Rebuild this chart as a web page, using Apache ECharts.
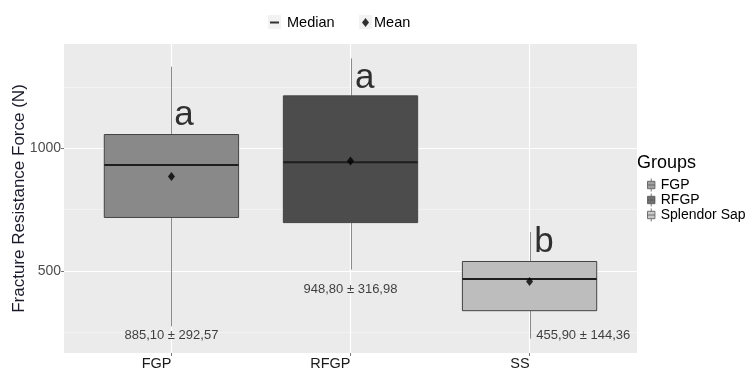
<!DOCTYPE html>
<html><head><meta charset="utf-8">
<script src="https://cdn.jsdelivr.net/npm/echarts@6/dist/echarts.min.js"></script>
<style>html,body{margin:0;padding:0;background:#fff}#c{width:748px;height:372px}</style>
</head><body><div id="c"></div>
<script>
// ---- data ----
const categories = ['FGP', 'RFGP', 'SS'];
const groups = ['FGP', 'RFGP', 'Splendor Sap'];
const whiskerMin = [273, 505, 223];
const q1 = [718, 697, 337];
const median = [932, 944, 466];
const q3 = [1057, 1215, 538];
const whiskerMax = [1334, 1368, 659];
const means = [885.10, 948.80, 455.90];
const sds = [292.57, 316.98, 144.36];
const letters = ['a', 'a', 'b'];
const letterX = [1.07, 2.08, 3.08];
const letterY = [1134, 1286, 615];
const statLabelX = [1, 2, 3.3];
const statLabelY = [236, 423, 236];
const yTicks = [500, 1000];
const yMinorGrid = [250, 750, 1250];

// ---- styles ----
const fills = ['#898989', '#4c4c4c', '#bdbdbd'];
const FONT = "'Liberation Sans', Arial, sans-serif";
const catPos = categories.map((c, i) => i + 1);
const fmt = v => v.toFixed(2).replace('.', ',');

const chart = echarts.init(document.getElementById('c'), null, {renderer: 'canvas'});

const boxPath = 'path://M4,0V3M0,3H8V11H0ZM4,11V14M0,7H8';

const gridLines = [
  ...yMinorGrid.map(v => ({yAxis: v, lineStyle: {color: '#f5f5f5', width: 0.8, type: 'solid'}})),
  ...yTicks.map(v => ({yAxis: v, lineStyle: {color: '#ffffff', width: 1.2, type: 'solid'}})),
  ...catPos.map(v => ({xAxis: v, lineStyle: {color: '#ffffff', width: 1.2, type: 'solid'}}))
];

const option = {
  animation: false,
  textStyle: {fontFamily: FONT},
  title: {text: 'Groups', left: 637, top: 154, padding: 0,
    textStyle: {fontSize: 18, fontWeight: 'normal', color: '#000', fontFamily: FONT}},
  graphic: [
    {type: 'rect', left: 268, top: 15, shape: {width: 13, height: 14}, style: {fill: '#f2f2f2'}, z: 0},
    {type: 'rect', left: 359, top: 15, shape: {width: 13, height: 14}, style: {fill: '#f2f2f2'}, z: 0}
  ],
  legend: [
    {data: ['Median'], left: 270, top: 15, padding: 0, icon: 'rect', itemWidth: 9, itemHeight: 2,
      textStyle: {fontSize: 14.5, color: '#000', padding: [0, 0, 0, 3]}, selectedMode: false},
    {data: ['Mean'], left: 362, top: 15, padding: 0, icon: 'diamond', itemWidth: 7, itemHeight: 9,
      textStyle: {fontSize: 14.5, color: '#000'}, selectedMode: false},
    {data: groups.map((g, i) => ({name: g, icon: boxPath,
        itemStyle: {color: fills[i], borderColor: '#555', borderWidth: 1}})),
      orient: 'vertical', left: 647, top: 178, padding: 0, itemWidth: 9, itemHeight: 13, itemGap: 1,
      textStyle: {fontSize: 14, color: '#000', lineHeight: 14}, selectedMode: false}
  ],
  grid: {left: 64, right: 111, top: 44, bottom: 19, show: true, backgroundColor: '#ebebeb', borderWidth: 0,
    containLabel: false, outerBoundsMode: 'none'},
  xAxis: {
    type: 'value', min: 0.4, max: 3.6,
    axisLine: {show: false}, splitLine: {show: false},
    axisTick: {show: true, length: 3, customValues: catPos, lineStyle: {color: '#777'}},
    axisLabel: {customValues: catPos, formatter: v => categories[Math.round(v) - 1] || '',
      align: 'right', margin: 3, fontSize: 14.5, color: '#1a1a1a'}
  },
  yAxis: {
    type: 'value', min: 164, max: 1427,
    name: 'Fracture Resistance Force (N)', nameLocation: 'middle', nameGap: 36, nameRotate: 90,
    nameMoveOverlap: false,
    nameTextStyle: {fontSize: 17, color: '#1a1a2a'},
    axisLine: {show: false}, splitLine: {show: false},
    axisTick: {show: true, length: 3, customValues: yTicks, lineStyle: {color: '#777'}},
    axisLabel: {customValues: yTicks, formatter: v => String(v), margin: 3, fontSize: 14, color: '#4d4d4d'}
  },
  series: [
    {type: 'scatter', name: 'grid', data: [], z: 1, silent: true,
      markLine: {silent: true, z: 1, symbol: ['none', 'none'], label: {show: false}, animation: false, data: gridLines}},
    {type: 'custom', name: 'boxes', z: 2,
      data: catPos.map((x, i) => [x, whiskerMin[i], q1[i], median[i], q3[i], whiskerMax[i]]),
      encode: {x: 0, y: [1, 2, 3, 4, 5]},
      renderItem: function (params, api) {
        const x = api.value(0);
        const pMin = api.coord([x, api.value(1)]);
        const pQ1 = api.coord([x, api.value(2)]);
        const pMed = api.coord([x, api.value(3)]);
        const pQ3 = api.coord([x, api.value(4)]);
        const pMax = api.coord([x, api.value(5)]);
        const hw = api.size([0.75, 0])[0] / 2;
        const i = params.dataIndex;
        const cx = Math.round(pMed[0]) + 0.5;
        return {type: 'group', children: [
          {type: 'line', shape: {x1: cx, y1: pMax[1], x2: cx, y2: pQ3[1]}, style: {stroke: '#8a8a8a', lineWidth: 1}},
          {type: 'line', shape: {x1: cx, y1: pQ1[1], x2: cx, y2: pMin[1]}, style: {stroke: '#8a8a8a', lineWidth: 1}},
          {type: 'rect', shape: {x: pQ3[0] - hw, y: pQ3[1], width: 2 * hw, height: pQ1[1] - pQ3[1]},
            style: {fill: fills[i], stroke: '#444', lineWidth: 1}},
          {type: 'line', shape: {x1: pMed[0] - hw, y1: pMed[1], x2: pMed[0] + hw, y2: pMed[1]},
            style: {stroke: '#1e1e1e', lineWidth: 2}}
        ]};
      }
    },
    {type: 'scatter', name: 'Mean', z: 5, symbol: 'diamond', symbolSize: [7, 9],
      itemStyle: {color: '#000'}, data: catPos.map((x, i) => [x, means[i]])},
    {type: 'scatter', name: 'Median', data: [], itemStyle: {color: '#000'}},
    ...groups.map((g, i) => ({type: 'scatter', name: g, data: [], itemStyle: {color: fills[i]}})),
    {type: 'scatter', name: 'letters', z: 6, symbolSize: 0, silent: true,
      data: letters.map((t, i) => ({value: [letterX[i], letterY[i]],
        label: {show: true, position: 'inside', formatter: t, fontSize: 35, color: '#000', fontFamily: FONT}}))},
    {type: 'scatter', name: 'stats', z: 6, symbolSize: 0, silent: true,
      data: means.map((m, i) => ({value: [statLabelX[i], statLabelY[i]],
        label: {show: true, position: 'inside', formatter: fmt(m) + ' \u00b1 ' + fmt(sds[i]),
          fontSize: 13, color: '#111', fontFamily: FONT}}))}
  ]
};
chart.setOption(option);
</script>
</body></html>
